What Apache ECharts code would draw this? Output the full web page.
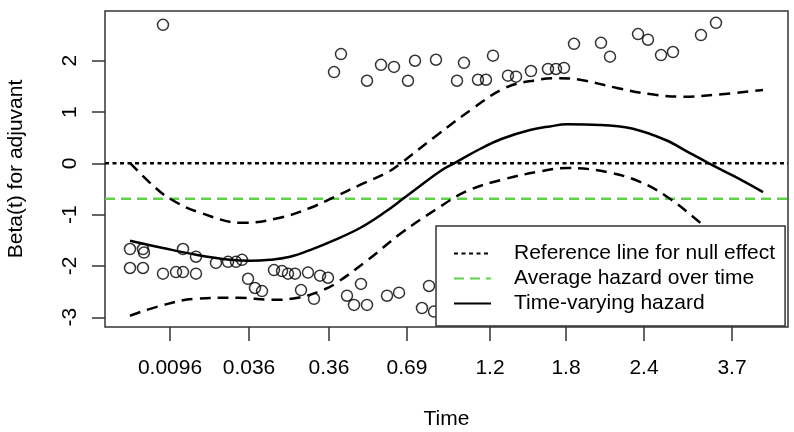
<!DOCTYPE html>
<html>
<head>
<meta charset="utf-8">
<script src="https://cdn.jsdelivr.net/npm/echarts@6/dist/echarts.min.js"></script>
<style>
  html, body { margin: 0; padding: 0; background: #fff; }
  #chart { width: 794px; height: 432px; }
</style>
</head>
<body>
<div id="chart"></div>
<script>
// x axis: tick positions on a 0-100 rank scale, and their time labels
const tickPos = [9.52, 21.08, 32.80, 44.22, 56.37, 67.50, 78.92, 91.80]
const tickLabels = ['0.0096', '0.036', '0.36', '0.69', '1.2', '1.8', '2.4', '3.7']
const yTicks = [-3, -2, -1, 0, 1, 2]

// scaled Schoenfeld residuals
const residX = [8.49, 33.53, 34.55, 38.36, 40.41, 42.31, 44.36, 45.39, 48.46, 51.54,
  52.56, 54.61, 55.78, 56.81, 59.00, 60.18, 62.37, 64.86, 66.03, 67.20,
  68.67, 72.62, 73.94, 78.04, 79.50, 81.41, 83.16, 87.26, 89.46,
  3.66, 5.56, 5.71, 3.66, 5.56, 8.49, 10.40, 11.42, 11.42, 13.32,
  13.32, 16.25, 18.01, 19.18, 20.06, 20.94, 21.96, 22.99, 24.74, 25.92,
  26.79, 27.82, 29.72, 28.70, 30.60, 31.48, 32.65, 35.43, 36.46, 37.48,
  38.36, 41.29, 43.05, 47.44, 46.41, 48.17]
const residY = [2.70, 1.78, 2.13, 1.61, 1.92, 1.88, 1.61, 2.00, 2.02, 1.61,
  1.96, 1.63, 1.63, 2.10, 1.71, 1.69, 1.80, 1.84, 1.84, 1.86,
  2.33, 2.35, 2.08, 2.52, 2.41, 2.11, 2.17, 2.50, 2.74,
  -1.67, -1.67, -1.74, -2.04, -2.04, -2.15, -2.12, -2.12, -1.67, -1.82,
  -2.15, -1.94, -1.92, -1.92, -1.88, -2.25, -2.43, -2.49, -2.08, -2.10,
  -2.15, -2.15, -2.13, -2.47, -2.64, -2.19, -2.23, -2.58, -2.76, -2.35,
  -2.76, -2.58, -2.52, -2.39, -2.82, -2.89]

// time-varying coefficient and its confidence band
const fitX = [3.66, 8.49, 13.32, 18.30, 21.23, 24.16, 27.09, 30.01, 33.67, 37.34,
  41.00, 43.63, 46.12, 49.34, 51.24, 54.90, 58.13, 62.23, 65.15, 67.64,
  72.47, 77.16, 81.99, 85.65, 88.29, 92.24, 96.34]
const fitY = [-1.51, -1.65, -1.78, -1.88, -1.90, -1.88, -1.82, -1.69, -1.49, -1.26,
  -0.95, -0.69, -0.44, -0.13, 0.01, 0.28, 0.48, 0.65, 0.72, 0.76,
  0.75, 0.68, 0.46, 0.20, 0.01, -0.26, -0.56]
const upperX = [3.66, 6.59, 9.52, 13.91, 20.20, 25.62, 30.01, 33.67, 37.34, 41.43,
  43.19, 48.32, 54.17, 58.57, 62.96, 66.33, 69.55, 74.96, 79.80, 84.63,
  89.60, 96.34]
const upperY = [0.01, -0.38, -0.69, -0.96, -1.16, -1.06, -0.87, -0.65, -0.42, -0.17,
  -0.01, 0.52, 1.10, 1.47, 1.62, 1.66, 1.63, 1.47, 1.35, 1.30,
  1.34, 1.43]
const lowerX = [3.66, 8.05, 13.18, 19.47, 24.45, 28.26, 31.48, 33.67, 38.51, 43.48,
  48.32, 53.00, 58.13, 63.98, 67.64, 73.50, 78.33, 82.28, 86.09, 90.04,
  96.34]
const lowerY = [-2.97, -2.78, -2.64, -2.62, -2.66, -2.62, -2.49, -2.35, -1.88, -1.35,
  -0.91, -0.54, -0.32, -0.15, -0.09, -0.17, -0.36, -0.65, -1.04, -1.49,
  -2.17]

// reference lines
const nullEffect = 0
const avgHazard = -0.69

const zip = (xs, ys) => xs.map((x, i) => [x, ys[i]])
const font = 'Liberation Sans, Arial, sans-serif'

const chart = echarts.init(document.getElementById('chart'), null, { renderer: 'canvas' })

const option = {
  animation: false,
  backgroundColor: '#fff',
  textStyle: { fontFamily: font, color: '#000' },
  grid: {
    left: 105, top: 11, width: 683, height: 316,
    outerBoundsMode: 'none', containLabel: false,
    show: true, borderColor: '#333', borderWidth: 1.5, backgroundColor: 'transparent'
  },
  xAxis: {
    type: 'value', min: 0, max: 100,
    name: 'Time', nameLocation: 'middle', nameGap: 82,
    nameTextStyle: { fontSize: 21, color: '#000', fontFamily: font },
    axisLine: { show: false, onZero: false },
    splitLine: { show: false },
    axisTick: { show: true, length: 14, customValues: tickPos, lineStyle: { color: '#333', width: 1.5 } },
    axisLabel: {
      customValues: tickPos, margin: 31, fontSize: 21, color: '#000', fontFamily: font,
      formatter: v => tickLabels[tickPos.indexOf(v)] || ''
    }
  },
  yAxis: {
    type: 'value', min: -3.19, max: 2.97,
    name: 'Beta(t) for adjuvant', nameLocation: 'middle', nameGap: 78, nameRotate: 90,
    nameTextStyle: { fontSize: 21, color: '#000', fontFamily: font },
    axisLine: { show: false, onZero: false },
    splitLine: { show: false },
    axisTick: { show: true, length: 13, customValues: yTicks, lineStyle: { color: '#333', width: 1.5 } },
    axisLabel: {
      customValues: yTicks, rotate: 90, margin: 24, fontSize: 21, color: '#000', fontFamily: font
    }
  },
  legend: {
    left: 436, top: 226, orient: 'vertical',
    data: ['Reference line for null effect', 'Average hazard over time', 'Time-varying hazard'],
    padding: [17, 10, 12, 17],
    itemGap: 4, itemWidth: 37, itemHeight: 14,
    backgroundColor: '#fff', borderColor: '#333', borderWidth: 1.5, borderRadius: 0,
    itemStyle: { color: 'transparent', borderColor: 'transparent', borderWidth: 0 },
    textStyle: { fontSize: 21, color: '#000', fontFamily: font, padding: [0, 0, 0, 18] }
  },
  series: [
    {
      name: 'residuals', type: 'scatter', symbol: 'circle', symbolSize: 11,
      itemStyle: { color: 'transparent', borderColor: '#000', borderWidth: 1.5 },
      data: zip(residX, residY), z: 3
    },
    {
      name: 'Reference line for null effect', type: 'line', symbol: 'none',
      lineStyle: { color: '#000', width: 2.5, type: [4, 3.5] },
      itemStyle: { color: '#000' },
      data: [[0, nullEffect], [100, nullEffect]]
    },
    {
      name: 'Average hazard over time', type: 'line', symbol: 'none',
      lineStyle: { color: '#61D04F', width: 2.5, type: [10, 6] },
      itemStyle: { color: '#61D04F' },
      data: [[0, avgHazard], [100, avgHazard]]
    },
    {
      name: 'Time-varying hazard', type: 'line', symbol: 'none', smooth: 0.4,
      lineStyle: { color: '#000', width: 2.5 },
      itemStyle: { color: '#000' },
      data: zip(fitX, fitY)
    },
    {
      name: 'upper', type: 'line', symbol: 'none', smooth: 0.4,
      lineStyle: { color: '#000', width: 2.5, type: [11, 7] },
      data: zip(upperX, upperY)
    },
    {
      name: 'lower', type: 'line', symbol: 'none', smooth: 0.4,
      lineStyle: { color: '#000', width: 2.5, type: [11, 7] },
      data: zip(lowerX, lowerY)
    }
  ]
}

chart.setOption(option)
</script>
</body>
</html>
